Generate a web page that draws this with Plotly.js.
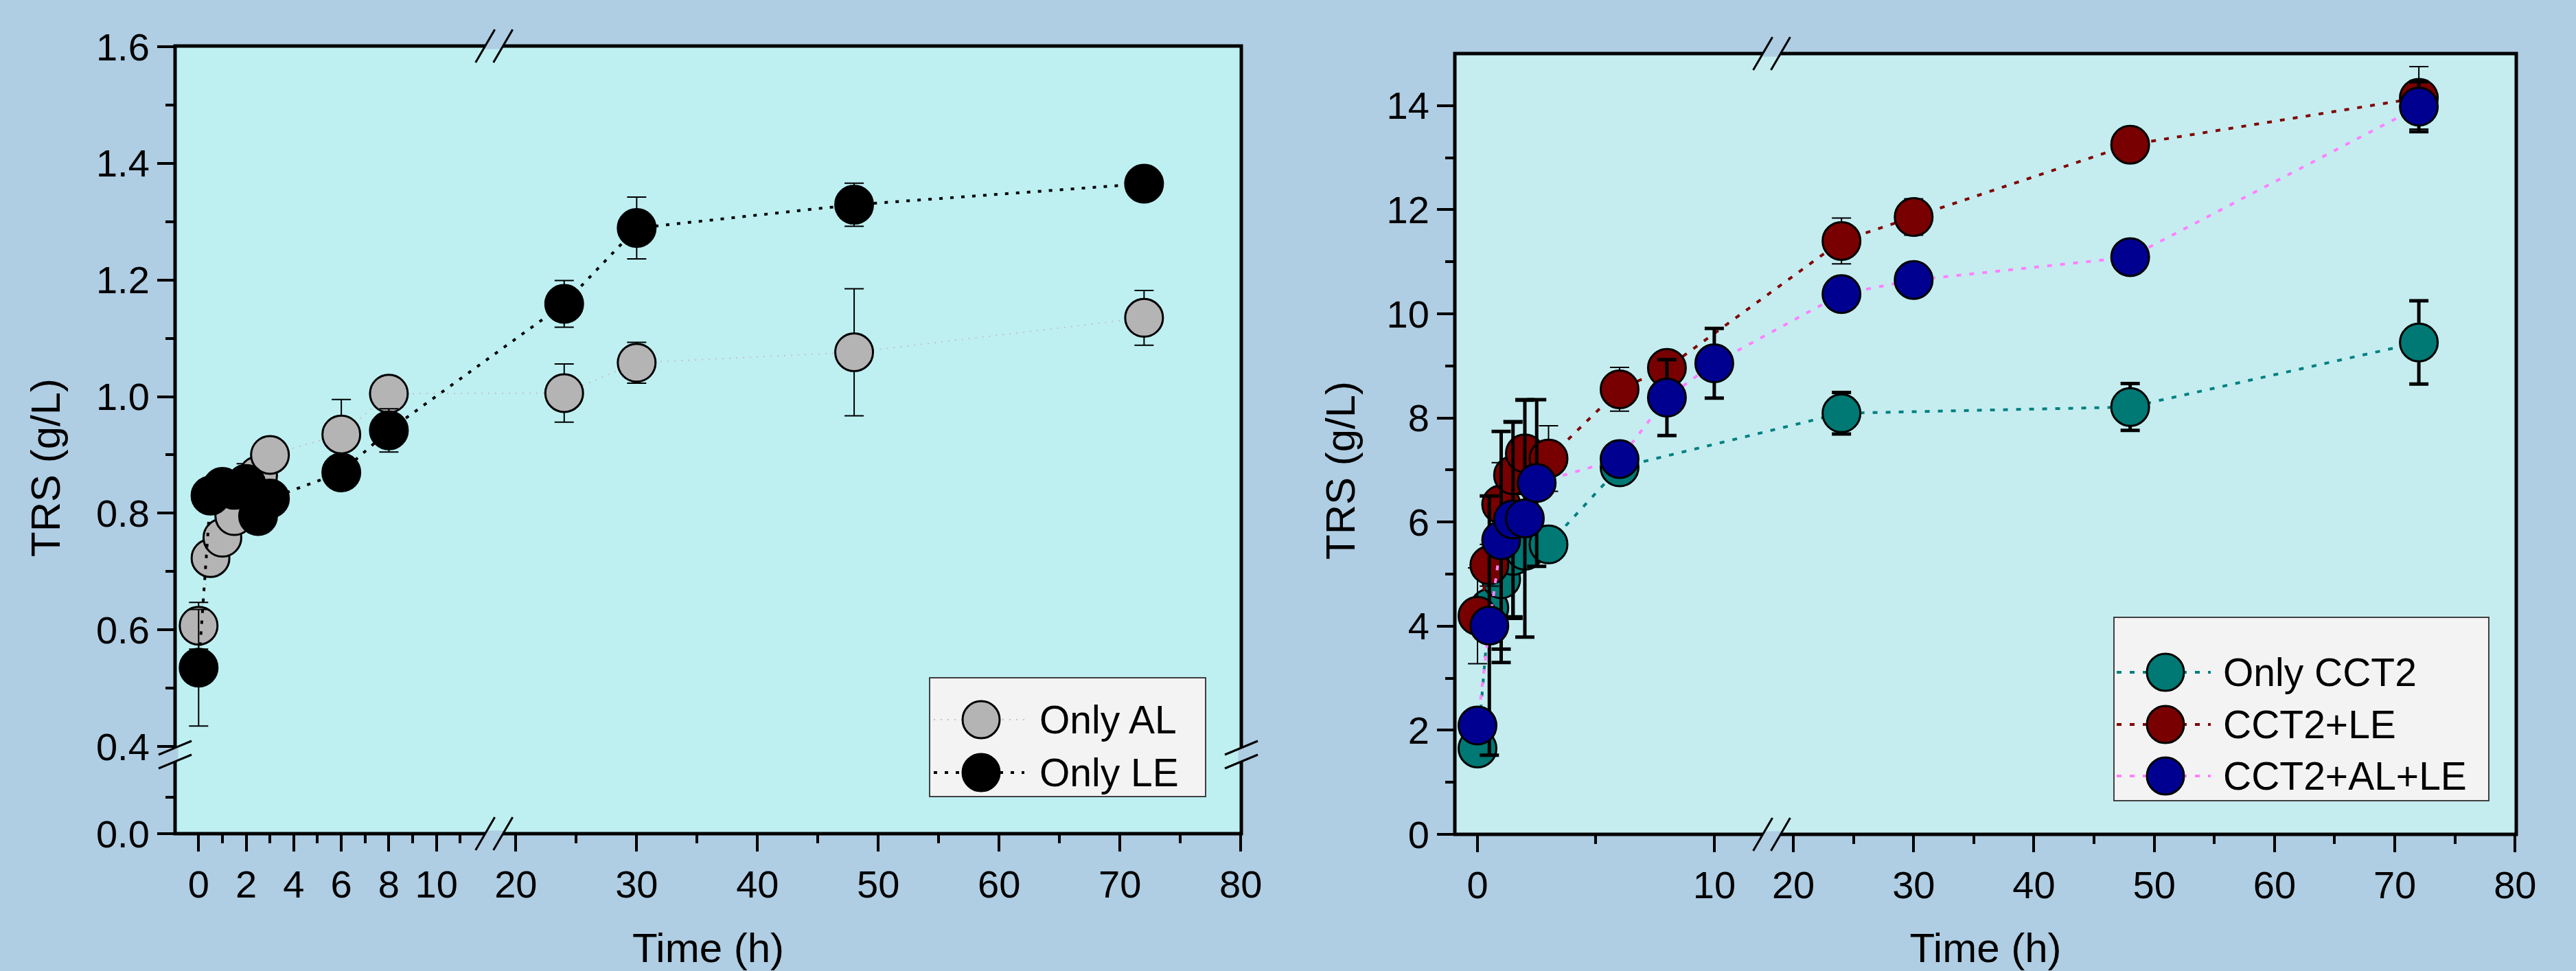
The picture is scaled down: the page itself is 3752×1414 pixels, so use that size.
<!DOCTYPE html>
<html><head><meta charset="utf-8">
<script src="https://cdn.plot.ly/plotly-3.0.1.min.js"></script>
<style>html,body{margin:0;padding:0;background:#AFCDE3;}#chart{width:3752px;height:1414px;}</style>
</head><body><div id="chart"></div>
<script>
// ---------- DATA ----------
// Left panel
const timeLeft = [0, 0.5, 1, 1.5, 2, 2.5, 3, 6, 8, 24, 30, 48, 72];
const onlyAL    = [0.607, 0.723, 0.758, 0.795, 0.85, 0.865, 0.900, 0.935, 1.005, 1.006, 1.058, 1.076, 1.135];
const onlyALErr = [0.040, 0.015, 0.020, 0.020, 0.035, 0.020, 0.020, 0.060, 0.020, 0.050, 0.035, 0.109, 0.047];
const onlyLE    = [0.535, 0.830, 0.845, 0.840, 0.850, 0.795, 0.825, 0.870, 0.942, 1.159, 1.289, 1.329, 1.365];
const onlyLEErr = [0.100, 0.010, 0.015, 0.020, 0.020, 0.015, 0.015, 0.010, 0.037, 0.040, 0.053, 0.037, 0.010];
// Right panel
const timeCCT2  = [0, 0.5, 1, 1.5, 2, 3, 6, 24, 48, 72];
const onlyCCT2    = [1.65, 4.35, 4.90, 5.35, 5.45, 5.57, 7.05, 8.09, 8.21, 9.45];
const onlyCCT2Err = [0.20, 0.30, 1.60, 1.20, 0.30, 0.25, 0.15, 0.40, 0.45, 0.80];
const timeLE    = [0, 0.5, 1, 1.5, 2, 3, 6, 8, 24, 30, 48, 72];
const cct2LE      = [4.20, 5.17, 6.34, 6.90, 7.32, 7.22, 8.55, 8.96, 11.40, 11.86, 13.25, 14.15];
const cct2LEErr   = [0.92, 0.40, 0.80, 1.05, 1.00, 0.63, 0.42, 0.25, 0.44, 0.35, 0.10, 0.60];
const timeALLE  = [0, 0.5, 1, 1.5, 2, 2.5, 6, 8, 10, 24, 30, 48, 72];
const cct2ALLE    = [2.09, 4.01, 5.65, 6.05, 6.07, 6.75, 7.21, 8.39, 9.05, 10.38, 10.65, 11.09, 13.98];
const cct2ALLEErr = [0.25, 2.49, 2.09, 1.87, 2.28, 1.60, 0.27, 0.73, 0.67, 0.28, 0.30, 0.30, 0.48];
// Tick labels
const leftXMajor  = [0, 2, 4, 6, 8, 10, 20, 30, 40, 50, 60, 70, 80];
const leftXMinor  = [1, 3, 5, 7, 9, 11, 25, 35, 45, 55, 65, 75];
const rightXMajor = [0, 10, 20, 30, 40, 50, 60, 70, 80];
const rightXMinor = [5, 25, 35, 45, 55, 65, 75];
const leftYMajor  = [0.4, 0.6, 0.8, 1.0, 1.2, 1.4, 1.6];
const leftYMinor  = [0.5, 0.7, 0.9, 1.1, 1.3, 1.5];
const rightYMajor = [0, 2, 4, 6, 8, 10, 12, 14];
const rightYMinor = [1, 3, 5, 7, 9, 11, 13];

// ---------- broken time axis (0-12 | 20-80) ----------
const GAP_START = 13.34, SCALE2 = 0.508;
function tpos(t){ return t <= 12 ? t : GAP_START + (t - 20) * SCALE2; }
const BREAK_A = 12.05, BREAK_B = 12.8;

const W = 3752, H = 1414;
const px = v => v / W;
const py = v => 1 - v / H;
const FONT = 'Liberation Sans, Arial, sans-serif';
const OUTER = '#AFCDE3';

// panel boxes in pixels
const LP = {L:255, R:1808, T:67, B:1214, yBreakA:1089, yBreakB:1109};
const RP = {L:2119, R:3665, T:78, B:1215};

function trace(t, y, err, name, fill, lineColor, lineW, dash, xa, ya, errThick){
  return {
    type:'scatter', mode:'lines+markers', name:name,
    x: t.map(tpos), y: y, customdata: t,
    xaxis: xa, yaxis: ya,
    line:{color:lineColor, width:lineW, dash:dash},
    marker:{size:55, color:fill, line:{color:'black', width:3}},
    error_y:{type:'data', array:err, visible:true, color:'black', thickness:errThick, width:14},
    hovertemplate: name + ': %{y} g/L at %{customdata} h<extra></extra>',
    showlegend:false
  };
}

const data = [
  trace(timeLeft, onlyAL, onlyALErr, 'Only AL', '#B4B4B4', '#C8C0C0', 2, '2px,8px', 'x', 'y', 2),
  trace(timeLeft, onlyLE, onlyLEErr, 'Only LE', '#000000', '#000000', 4, '5px,11px', 'x', 'y', 2),
  trace(timeCCT2, onlyCCT2, onlyCCT2Err, 'Only CCT2', '#007873', '#008080', 4, '7px,12px', 'x3', 'y3', 5),
  trace(timeLE, cct2LE, cct2LEErr, 'CCT2+LE', '#780000', '#800000', 4, '7px,12px', 'x3', 'y3', 2),
  trace(timeALLE, cct2ALLE, cct2ALLEErr, 'CCT2+AL+LE', '#000090', '#FF80FF', 4, '7px,12px', 'x3', 'y3', 5),
  // empty trace that registers the lower (0 - 0.2) segment of the broken left y axis
  {type:'scatter', mode:'markers', x:[0], y:[null], xaxis:'x', yaxis:'y2', showlegend:false, hoverinfo:'skip', marker:{opacity:0}}
];

const tickFont = {family:FONT, size:56, color:'black'};
function xAxis(domain, range, major, minor, anchor){
  return {
    domain: domain, range: range, anchor: anchor,
    tickmode:'array', tickvals: major.map(tpos), ticktext: major.map(String),
    ticks:'outside', ticklen:25, tickwidth:4, tickcolor:'black',
    minor:{tickmode:'array', tickvals: minor.map(tpos), ticks:'outside', ticklen:13, tickwidth:4, tickcolor:'black', showgrid:false},
    showline:false, showgrid:false, zeroline:false,
    tickfont: tickFont,
    title:{text:'Time (h)', font:{family:FONT, size:60, color:'black'}, standoff:40}
  };
}
function yAxis(domain, range, major, labels, minor, anchor){
  return {
    domain: domain, range: range, anchor: anchor,
    tickmode:'array', tickvals: major, ticktext: labels,
    ticks:'outside', ticklen:25, tickwidth:4, tickcolor:'black',
    minor:{tickmode:'array', tickvals: minor, ticks:'outside', ticklen:13, tickwidth:4, tickcolor:'black', showgrid:false},
    showline:false, showgrid:false, zeroline:false,
    tickfont: tickFont
  };
}

const layout = {
  width:W, height:H, margin:{l:0, r:0, t:0, b:0},
  paper_bgcolor: OUTER, plot_bgcolor:'rgba(0,0,0,0)',
  font:{family:FONT, color:'black'},
  showlegend:false,
  xaxis: xAxis([px(LP.L), px(LP.R)], [-0.99, 43.845], leftXMajor, leftXMinor, 'y2'),
  yaxis: yAxis([py(1087), py(68)], [0.4, 1.6], leftYMajor, leftYMajor.map(v => v.toFixed(1)), leftYMinor, 'x'),
  yaxis2: yAxis([py(LP.B), py(1108)], [0, 0.2], [0], ['0.0'], [0.1], 'x'),
  xaxis3: xAxis([px(RP.L), px(RP.R)], [-0.957, 43.87], rightXMajor, rightXMinor, 'y3'),
  yaxis3: yAxis([py(RP.B), py(RP.T)], [0, 15], rightYMajor, rightYMajor.map(String), rightYMinor, 'x3'),
  shapes: [],
  annotations: []
};

const S = layout.shapes, A = layout.annotations;
// panel backgrounds
S.push({type:'rect', xref:'paper', yref:'paper', layer:'below', x0:px(LP.L), x1:px(LP.R), y0:py(LP.B), y1:py(LP.T), fillcolor:'#BEF0F2', line:{width:0}});
S.push({type:'rect', xref:'paper', yref:'paper', layer:'below', x0:px(RP.L), x1:px(RP.R), y0:py(RP.B), y1:py(RP.T), fillcolor:'#C5EDF0', line:{width:0}});
// frames
[LP, RP].forEach(P => S.push({type:'rect', xref:'paper', yref:'paper', x0:px(P.L), x1:px(P.R), y0:py(P.B), y1:py(P.T), fillcolor:'rgba(0,0,0,0)', line:{color:'black', width:5}}));

// x breaks (bottom and top of each panel)
[['x', LP], ['x3', RP]].forEach(([xa, P]) => {
  [P.B, P.T].forEach(yy => {
    S.push({type:'line', xref:xa, yref:'paper', x0:BREAK_A, x1:BREAK_B, y0:py(yy), y1:py(yy), line:{color:OUTER, width:9}});
    [BREAK_A, BREAK_B].forEach(b => S.push({type:'line', xref:xa, yref:'paper', xsizemode:'pixel', ysizemode:'pixel',
      xanchor:b, yanchor:py(yy), x0:-14, x1:14, y0:-24, y1:24, line:{color:'black', width:3}}));
  });
});
// y break on left panel (left axis and right frame)
[LP.L, LP.R].forEach(xx => {
  S.push({type:'line', xref:'paper', yref:'paper', x0:px(xx), x1:px(xx), y0:py(LP.yBreakA), y1:py(LP.yBreakB), line:{color:OUTER, width:9}});
  [LP.yBreakA, LP.yBreakB].forEach(yy => S.push({type:'line', xref:'paper', yref:'paper', xsizemode:'pixel', ysizemode:'pixel',
    xanchor:px(xx), yanchor:py(yy), x0:-24, x1:24, y0:-10, y1:10, line:{color:'black', width:3}}));
});

// custom legends
function legend(box, items, mx, lx0, lx1, tx){
  S.push({type:'rect', xref:'paper', yref:'paper', x0:px(box[0]), x1:px(box[2]), y0:py(box[3]), y1:py(box[1]), fillcolor:'#F3F3F3', line:{color:'#404040', width:2}});
  items.forEach(it => {
    const tr = data[it.i];
    S.push({type:'line', xref:'paper', yref:'paper', x0:px(lx0), x1:px(lx1), y0:py(it.y), y1:py(it.y), line:{color:tr.line.color, width:tr.line.width, dash:tr.line.dash}});
    S.push({type:'circle', xref:'paper', yref:'paper', x0:px(mx-27), x1:px(mx+27), y0:py(it.y+27), y1:py(it.y-27), fillcolor:tr.marker.color, line:{color:'black', width:3}});
    A.push({xref:'paper', yref:'paper', x:px(tx), y:py(it.y), xanchor:'left', yanchor:'middle', showarrow:false, text:tr.name, font:{family:FONT, size:57, color:'black'}});
  });
}
legend([1354, 987, 1756, 1160], [{i:0, y:1048}, {i:1, y:1125}], 1429, 1360, 1492, 1512);
legend([3079, 899, 3625, 1166], [{i:2, y:979}, {i:3, y:1055}, {i:4, y:1130}], 3154, 3083, 3220, 3236);

// y-axis titles
A.push({xref:'paper', yref:'paper', x:px(67), y:py(681), textangle:-90, showarrow:false, xanchor:'center', yanchor:'middle', text:'TRS (g/L)', font:{family:FONT, size:60, color:'black'}});
A.push({xref:'paper', yref:'paper', x:px(1952), y:py(685), textangle:-90, showarrow:false, xanchor:'center', yanchor:'middle', text:'TRS (g/L)', font:{family:FONT, size:60, color:'black'}});

Plotly.newPlot('chart', data, layout, {staticPlot:true, displayModeBar:false});
</script>
</body></html>
